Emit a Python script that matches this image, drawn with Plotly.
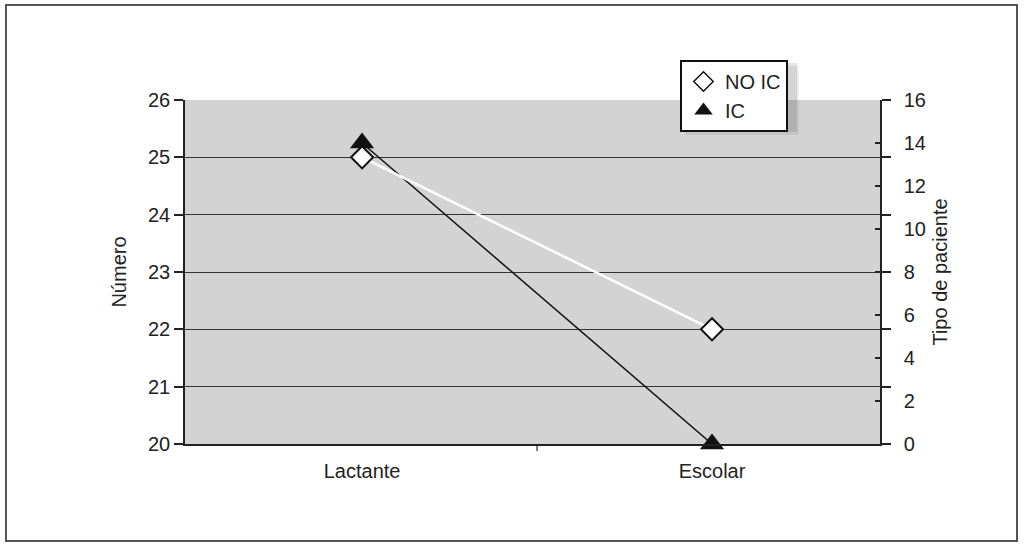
import plotly.graph_objects as go

categories = ["Lactante", "Escolar"]
x_pos = [0, 1]
no_ic = [25, 22]      # left axis (Número)
ic = [14, 0]          # right axis (Tipo de paciente)
left_ticks = [20, 21, 22, 23, 24, 25, 26]
right_ticks = [0, 2, 4, 6, 8, 10, 12, 14, 16]

FONT = "Liberation Sans"
TXT = "#222222"
FS = 20

fig = go.Figure()

# IC on primary (right) axis
fig.add_trace(go.Scatter(
    x=x_pos, y=ic, mode="lines+markers", name="IC", yaxis="y",
    line=dict(color="#111111", width=1.5),
    marker=dict(symbol="triangle-up", size=21, color="#111111"),
    showlegend=False, cliponaxis=False,
))
# NO IC on overlay (left) axis, drawn on top
fig.add_trace(go.Scatter(
    x=x_pos, y=no_ic, mode="lines+markers", name="NO IC", yaxis="y2",
    line=dict(color="white", width=2.5),
    marker=dict(symbol="diamond", size=17, color="white",
                line=dict(color="#111111", width=2)),
    showlegend=False, cliponaxis=False,
))
# legend entries (markers only)
fig.add_trace(go.Scatter(
    x=[None], y=[None], mode="markers", name="NO IC", yaxis="y2",
    marker=dict(symbol="diamond", size=15, color="white",
                line=dict(color="#111111", width=1.5)),
    legendrank=1,
))
fig.add_trace(go.Scatter(
    x=[None], y=[None], mode="markers", name="IC", yaxis="y",
    marker=dict(symbol="triangle-up", size=17, color="#111111"),
    legendrank=2,
))

# plot area geometry: x 185..880, y 100..444
L, R, T, B = 185, 880, 100, 444
W, H = R - L, B - T

def px(x):
    return (x - L) / W

def py(y):
    return (B - y) / H

shapes = [
    # outer frame
    dict(type="rect", xref="paper", yref="paper",
         x0=px(6), x1=px(1017), y0=py(541), y1=py(5),
         line=dict(color="#555555", width=2), fillcolor="rgba(0,0,0,0)", layer="below"),
    # category boundary tick
    dict(type="line", xref="x", yref="paper", x0=0.5, x1=0.5, y0=0, y1=py(451),
         line=dict(color="#222222", width=1.2)),
    # legend shadow
    dict(type="rect", xref="paper", yref="paper",
         x0=px(685), x1=px(799), y0=py(135), y1=py(66),
         line=dict(width=0), fillcolor="rgba(0,0,0,0.07)", layer="above"),
    dict(type="rect", xref="paper", yref="paper",
         x0=px(683), x1=px(797), y0=py(132), y1=py(63),
         line=dict(width=0), fillcolor="rgba(0,0,0,0.10)", layer="above"),
]

fig.update_layout(
    width=1024, height=547,
    margin=dict(l=L, r=1024 - R, t=T, b=547 - B),
    paper_bgcolor="white",
    plot_bgcolor="#d3d3d3",
    font=dict(family=FONT, size=FS, color=TXT),
    xaxis=dict(
        range=[-0.506, 1.48], tickvals=x_pos, ticktext=categories,
        showgrid=False, zeroline=False, ticks="",
        showline=True, linecolor="#222222", linewidth=1.5,
        ticklabelstandoff=8,
        tickfont=dict(family=FONT, size=FS, color=TXT),
    ),
    yaxis=dict(
        side="right", range=[0, 16], tickvals=right_ticks,
        showgrid=False, zeroline=False,
        ticks="inside", ticklen=5, tickwidth=1.5, tickcolor="#222222",
        showline=True, linecolor="#444444", linewidth=1.5,
        ticklabelstandoff=18,
        tickfont=dict(family=FONT, size=FS, color=TXT),
        title=dict(text="Tipo de paciente", standoff=8,
                   font=dict(family=FONT, size=FS, color=TXT)),
    ),
    yaxis2=dict(
        overlaying="y", side="left", range=[20, 26], tickvals=left_ticks,
        showgrid=True, gridcolor="#333333", gridwidth=1,
        zeroline=False,
        ticks="outside", ticklen=9, tickwidth=1.5, tickcolor="#222222",
        showline=True, linecolor="#222222", linewidth=1.5, mirror="ticks",
        tickfont=dict(family=FONT, size=FS, color=TXT),
        title=dict(text="Número", standoff=16,
                   font=dict(family=FONT, size=FS, color=TXT)),
    ),
    legend=dict(
        x=px(680), y=py(60), xanchor="left", yanchor="top",
        bgcolor="white", bordercolor="#111111", borderwidth=2,
        font=dict(family=FONT, size=FS, color=TXT),
        tracegroupgap=0, itemwidth=33,
        entrywidth=80, entrywidthmode="pixels",
    ),
    shapes=shapes,
)

fig.write_html("out.html", config={"displayModeBar": False},
               post_script="document.body.style.margin='0';")
